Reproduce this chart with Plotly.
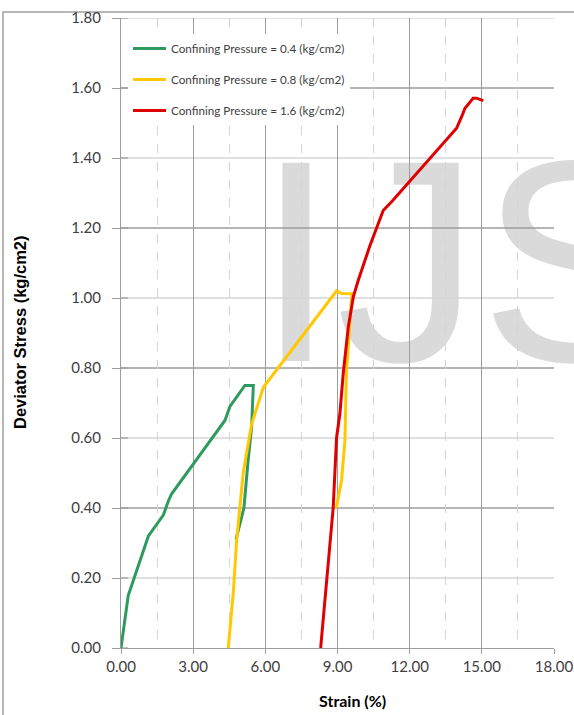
import plotly.graph_objects as go

# Stress-strain readings for three confining pressures
strain_04 = [0, 0.30, 1.14, 1.76, 1.97, 2.10, 4.32, 4.53, 5.15, 5.50, 5.43, 5.29, 5.11, 4.88, 4.78]
stress_04 = [0, 0.15, 0.32, 0.38, 0.42, 0.44, 0.65, 0.69, 0.75, 0.75, 0.63, 0.54, 0.40, 0.34, 0.31]

strain_08 = [4.46, 4.67, 4.81, 5.08, 5.43, 5.92, 8.96, 9.17, 9.60, 9.52, 9.37, 9.31, 9.17, 8.95]
stress_08 = [0, 0.16, 0.31, 0.50, 0.64, 0.745, 1.02, 1.013, 1.012, 0.93, 0.785, 0.594, 0.48, 0.40]

strain_16 = [8.30, 8.55, 8.82, 8.96, 9.10, 9.24, 9.45, 9.66, 9.86, 10.35, 10.90, 11.25,
             13.95, 14.16, 14.30, 14.64, 14.78, 15.06]
stress_16 = [0, 0.20, 0.40, 0.60, 0.67, 0.785, 0.918, 1.004, 1.05, 1.15, 1.25, 1.275,
             1.485, 1.518, 1.542, 1.571, 1.571, 1.564]

series_names = ["Confining Pressure = 0.4 (kg/cm2)",
                "Confining Pressure = 0.8 (kg/cm2)",
                "Confining Pressure = 1.6 (kg/cm2)"]
series_colors = ["#2e9a5e", "#ffc800", "#e00000"]

x_ticks = [0, 3, 6, 9, 12, 15, 18]
y_ticks = [0, 0.2, 0.4, 0.6, 0.8, 1.0, 1.2, 1.4, 1.6, 1.8]

W, H = 574, 715
L, R, T, B = 121, 20, 18, 67
pw, ph = W - L - R, H - T - B


def px_x(p):
    return (p - L) / pw


def px_y(p):
    return (H - B - p) / ph


fig = go.Figure()
for i, (xs, ys) in enumerate([(strain_04, stress_04), (strain_08, stress_08), (strain_16, stress_16)]):
    fig.add_trace(go.Scatter(
        x=xs, y=ys, mode="lines", name=series_names[i],
        line=dict(color=series_colors[i], width=3),
        legendgroup=f"g{i}",
    ))

shapes = []
# faint watermark lettering behind the grid
shapes.append(dict(
    type="rect", xref="paper", yref="paper",
    x0=px_x(256), x1=px_x(672), y0=px_y(354), y1=px_y(114),
    line=dict(width=0), fillcolor="rgba(0,0,0,0)", layer="below",
    label=dict(text="IJS", font=dict(family="Liberation Sans", size=288, color="#dadada"),
               textposition="middle center"),
))
# horizontal gridlines: darker every 0.4, lighter in between
for v in y_ticks[1:]:
    dark = abs((v / 0.4) - round(v / 0.4)) < 1e-6
    shapes.append(dict(
        type="line", xref="paper", yref="y", x0=0, x1=1, y0=v, y1=v,
        line=dict(color="#9c9c9c" if dark else "#d4d4d4", width=1.3),
        layer="between",
    ))
# y tick marks cross the axis line: short inner halves
for v in y_ticks:
    shapes.append(dict(
        type="line", xref="paper", yref="y", x0=0, x1=px_x(128), y0=v, y1=v,
        line=dict(color="#9c9c9c", width=1.2), layer="between",
    ))
# chart-area frame
shapes.append(dict(
    type="rect", xref="paper", yref="paper",
    x0=px_x(3), x1=px_x(620), y0=px_y(760), y1=px_y(12),
    line=dict(color="#a0a0a0", width=1.5), fillcolor="rgba(0,0,0,0)", layer="below",
))

fig.update_layout(
    width=W, height=H,
    margin=dict(l=L, r=R, t=T, b=B, pad=0, autoexpand=False),
    paper_bgcolor="white", plot_bgcolor="rgba(0,0,0,0)",
    shapes=shapes,
    showlegend=True,
    legend=dict(
        x=px_x(128), y=px_y(34), xanchor="left", yanchor="top",
        bgcolor="white", borderwidth=0,
        font=dict(family="Lato", size=11.7, color="#404040"),
        tracegroupgap=12, traceorder="grouped", itemwidth=33,
    ),
    xaxis=dict(
        range=[0, 18], tickvals=x_ticks, ticktext=[f"{v:.2f}" for v in x_ticks],
        automargin=False,
        showgrid=True, gridcolor="#9c9c9c", gridwidth=1.2,
        minor=dict(dtick=1.5, tick0=0, showgrid=True, gridcolor="#d4d4d4",
                   griddash="dash", gridwidth=1),
        showline=True, linecolor="#9c9c9c", linewidth=1.2,
        ticks="outside", ticklen=5, tickcolor="#9c9c9c",
        tickfont=dict(family="Lato", size=15, color="#404040"),
        zeroline=False,
    ),
    yaxis=dict(
        range=[0, 1.8], tickvals=y_ticks, ticktext=[f"{v:.2f}" for v in y_ticks],
        automargin=False,
        showgrid=False,
        showline=True, linecolor="#9c9c9c", linewidth=1.2,
        ticks="outside", ticklen=8, tickcolor="#9c9c9c", ticklabelstandoff=8,
        tickfont=dict(family="Lato", size=15, color="#404040"),
        zeroline=False,
    ),
    annotations=[
        dict(text="Deviator Stress (kg/cm2)", textangle=-90, showarrow=False,
             xref="paper", yref="paper", x=px_x(20), y=px_y(332),
             xanchor="center", yanchor="middle",
             font=dict(family="Liberation Sans", size=16.5, color="black", weight="bold")),
        dict(text="Strain (%)", showarrow=False,
             xref="paper", yref="paper", x=px_x(352), y=px_y(700),
             xanchor="center", yanchor="middle",
             font=dict(family="Lato", size=16, color="black", weight="bold")),
    ],
)

fig.write_html("out.html")
